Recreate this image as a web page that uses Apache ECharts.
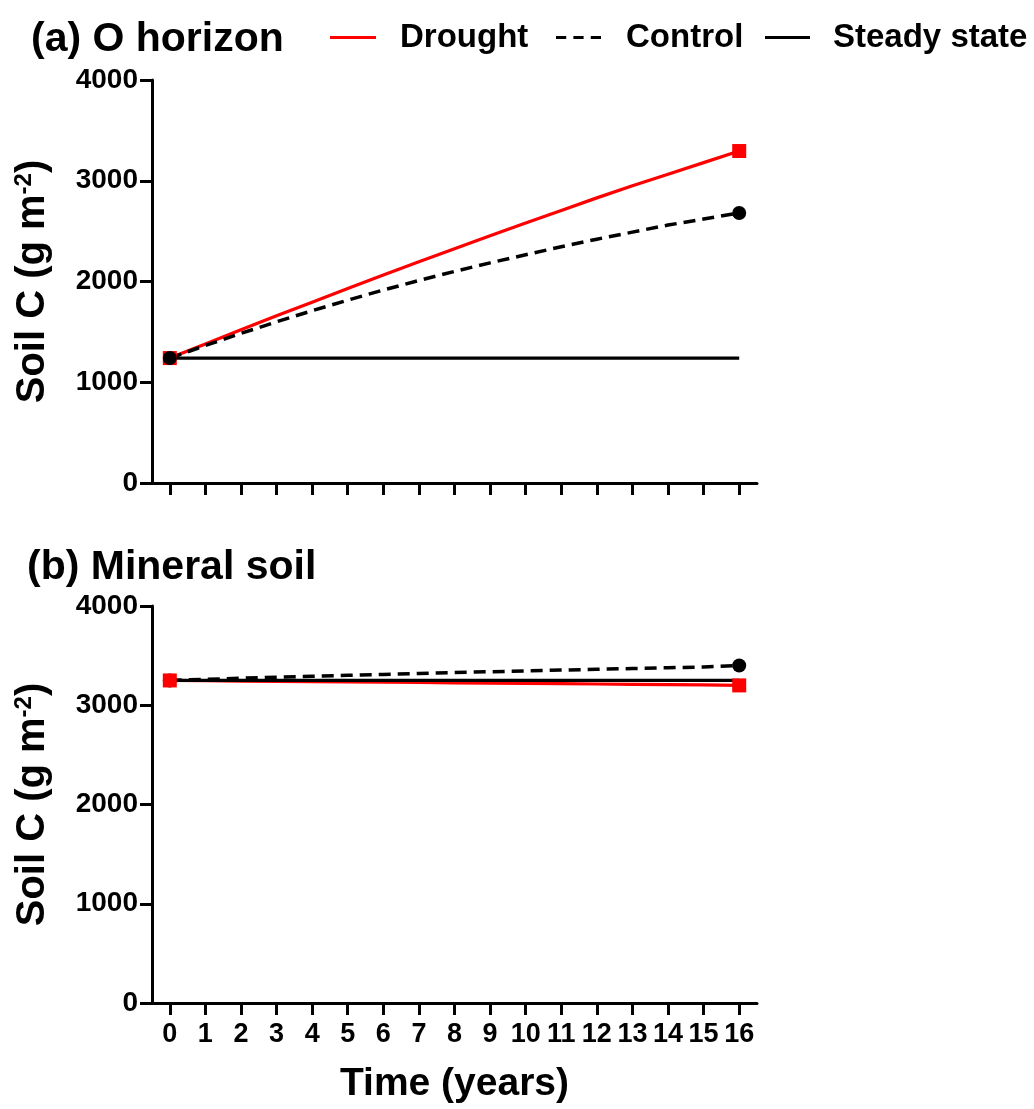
<!DOCTYPE html>
<html>
<head>
<meta charset="utf-8">
<script src="https://cdn.jsdelivr.net/npm/echarts@6/dist/echarts.min.js"></script>
<style>
html,body{margin:0;padding:0;background:#fff;}
#chart{width:1034px;height:1109px;}
</style>
</head>
<body>
<div id="chart"></div>
<script>
// ---- data ----
const years = ['0','1','2','3','4','5','6','7','8','9','10','11','12','13','14','15','16'];
const yTicks = [0, 1000, 2000, 3000, 4000];

// (a) O horizon
const oDrought = [1240,1380,1520,1660,1795,1930,2065,2195,2325,2455,2580,2705,2830,2950,3065,3180,3295];
const oControl = [1240,1365,1485,1600,1710,1815,1915,2010,2100,2185,2265,2345,2420,2490,2560,2620,2680];
const oSteady  = [1240,1240,1240,1240,1240,1240,1240,1240,1240,1240,1240,1240,1240,1240,1240,1240,1240];

// (b) Mineral soil
const mDrought = [3250,3247,3244,3241,3238,3235,3232,3229,3226,3223,3220,3217,3214,3211,3208,3205,3200];
const mControl = [3250,3261,3272,3282,3292,3302,3311,3320,3329,3338,3346,3354,3362,3370,3378,3386,3400];
const mSteady  = [3250,3250,3250,3250,3250,3250,3250,3250,3250,3250,3250,3250,3250,3250,3250,3250,3250];

const titles = ['(a) O horizon', '(b) Mineral soil'];
const legendNames = ['Drought', 'Control', 'Steady state'];

// ---- styles ----
const FONT = '"Liberation Sans", Arial, sans-serif';
const RED = '#ff0000';
const BLACK = '#000000';
const last = years.length - 1;
const SOLID_ICON = 'path://M0,0h44v3h-44z';
const DASH_ICON = 'path://M0,0h10v3h-10z M17,0h10v3h-10z M34,0h10v3h-10z';

function endPts(arr){ return [[0, arr[0]], [last, arr[last]]]; }

function xAxis(gi, showLabels){
  return {
    type: 'category', gridIndex: gi, data: years, boundaryGap: true,
    axisLine: {lineStyle: {color: BLACK, width: 3}},
    axisTick: {show: true, alignWithLabel: true, interval: 0, length: 12, lineStyle: {color: BLACK, width: 3}},
    axisLabel: {show: showLabels, interval: 0, color: BLACK, fontFamily: FONT, fontWeight: 'bold', fontSize: 27, margin: 18},
    splitLine: {show: false},
    name: showLabels ? 'Time (years)' : '',
    nameLocation: 'middle', nameGap: 62,
    nameTextStyle: {color: BLACK, fontFamily: FONT, fontWeight: 'bold', fontSize: 39}
  };
}
function yAxis(gi){
  return {
    type: 'value', gridIndex: gi, min: yTicks[0], max: yTicks[yTicks.length-1], interval: 1000,
    axisLine: {show: true, lineStyle: {color: BLACK, width: 3}},
    axisTick: {show: true, length: 12, lineStyle: {color: BLACK, width: 3}},
    axisLabel: {color: BLACK, fontFamily: FONT, fontWeight: 'bold', fontSize: 28, margin: 14,
                formatter: function(v){ return String(v); }},
    splitLine: {show: false},
    name: '{b|Soil C (g m}{s|-2}{b|)}',
    nameLocation: 'middle', nameRotate: 90, nameGap: 98,
    nameTextStyle: {
      color: BLACK,
      rich: {
        b: {fontFamily: FONT, fontWeight: 'bold', fontSize: 40, color: BLACK},
        s: {fontFamily: FONT, fontWeight: 'bold', fontSize: 24, color: BLACK, verticalAlign: 'top', padding: [0,0,18,0]}
      }
    }
  };
}

function lineSeries(name, gi, data, color, dashed, z){
  return {
    name: name, type: 'line', xAxisIndex: gi, yAxisIndex: gi, data: data,
    symbol: 'none', smooth: false, z: z,
    lineStyle: {color: color, width: dashed ? 3.5 : 3.2, type: dashed ? [12, 7] : 'solid'},
    itemStyle: {color: color},
    emphasis: {disabled: true}, silent: true
  };
}
function markSeries(gi, data, color, symbol, size, z){
  return {
    type: 'scatter', xAxisIndex: gi, yAxisIndex: gi, data: endPts(data),
    symbol: symbol, symbolSize: size, z: z,
    itemStyle: {color: color, opacity: 1}, silent: true
  };
}

const legendText = {color: BLACK, fontFamily: FONT, fontWeight: 'bold', fontSize: 33};

const option = {
  animation: false,
  backgroundColor: '#fff',
  title: [
    {text: titles[0], left: 26, top: 14, textStyle: {color: BLACK, fontFamily: FONT, fontWeight: 'bold', fontSize: 41}},
    {text: titles[1], left: 22, top: 542, textStyle: {color: BLACK, fontFamily: FONT, fontWeight: 'bold', fontSize: 41}}
  ],
  legend: [
    {data: [{name: legendNames[0], icon: SOLID_ICON}], left: 330, top: 21, itemWidth: 46, itemHeight: 3.5, padding: 0,
     textStyle: Object.assign({padding: [0,0,0,19]}, legendText), selectedMode: false},
    {data: [{name: legendNames[1], icon: DASH_ICON}], left: 556, top: 21, itemWidth: 45, itemHeight: 3.5, padding: 0,
     textStyle: Object.assign({padding: [0,0,0,20]}, legendText), selectedMode: false},
    {data: [{name: legendNames[2], icon: SOLID_ICON}], left: 765, top: 21, itemWidth: 45, itemHeight: 3.5, padding: 0,
     textStyle: Object.assign({padding: [0,0,0,18]}, legendText), selectedMode: false}
  ],
  grid: [
    {left: 152, right: 277, top: 80, height: 403},
    {left: 152, right: 277, top: 606, height: 397}
  ],
  xAxis: [xAxis(0, false), xAxis(1, true)],
  yAxis: [yAxis(0), yAxis(1)],
  series: [
    lineSeries(legendNames[2], 0, oSteady, BLACK, false, 2),
    lineSeries(legendNames[0], 0, oDrought, RED, false, 3),
    lineSeries(legendNames[1], 0, oControl, BLACK, true, 4),
    markSeries(0, oDrought, RED, 'rect', 14, 5),
    markSeries(0, oControl, BLACK, 'circle', 14, 6),

    lineSeries(legendNames[2], 1, mSteady, BLACK, false, 3),
    lineSeries(legendNames[0], 1, mDrought, RED, false, 2),
    lineSeries(legendNames[1], 1, mControl, BLACK, true, 4),
    markSeries(1, mControl, BLACK, 'circle', 14, 5),
    markSeries(1, mDrought, RED, 'rect', 14, 6)
  ]
};

const chart = echarts.init(document.getElementById('chart'), null, {renderer: 'canvas'});
chart.setOption(option);
</script>
</body>
</html>
